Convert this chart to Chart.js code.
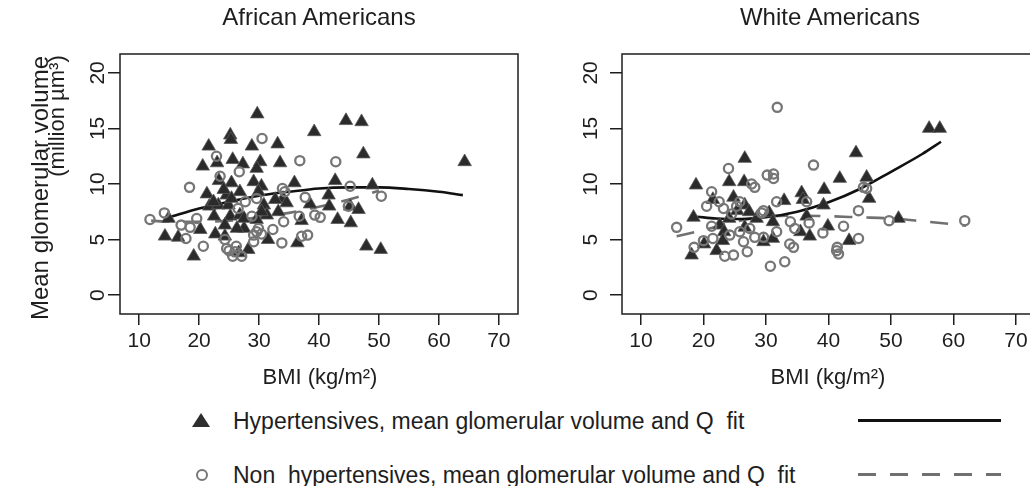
<!DOCTYPE html>
<html>
<head>
<meta charset="utf-8">
<script src="https://cdn.jsdelivr.net/npm/chart.js@4.4.1/dist/chart.umd.min.js"></script>
<style>
  html, body { margin:0; padding:0; width:1030px; height:486px; overflow:hidden; background:#fff; }
  body { position:relative; font-family:"Liberation Sans", Arial, sans-serif; color:#1e1e1e; }
  canvas { position:absolute; top:0; }
  .t { position:absolute; white-space:nowrap; transform:translate(-50%,-50%); line-height:1; }
  .r { position:absolute; white-space:nowrap; transform:translate(-50%,-50%) rotate(-90deg); line-height:1; }
  .lg { position:absolute; white-space:pre; font-size:23px; line-height:1; transform:translateY(-50%); }
</style>
</head>
<body>
<canvas id="left" width="530" height="400" style="left:0"></canvas>
<canvas id="right" width="520" height="400" style="left:540px"></canvas>

<div class="t" style="left:319px; top:17px; font-size:24px;">African Americans</div>
<div class="t" style="left:830px; top:17px; font-size:24px;">White Americans</div>
<div class="t" style="left:320px; top:377px; font-size:22px;">BMI (kg/m²)</div>
<div class="t" style="left:828px; top:377px; font-size:22px;">BMI (kg/m²)</div>
<div class="r" style="left:40px; top:188px; font-size:24px;">Mean glomerular volume</div>
<div class="r" style="left:57px; top:116px; font-size:22px;">(million µm³)</div>

<div style="position:absolute; left:192px; top:413px; width:0; height:0; border-left:9px solid transparent; border-right:9px solid transparent; border-bottom:14px solid #2e2e2e;"></div>
<div class="lg" style="left:233px; top:421px;">Hypertensives, mean glomerular volume and Q  fit</div>
<div style="position:absolute; left:858px; top:419px; width:143px; height:3px; background:#111;"></div>

<div style="position:absolute; left:196px; top:469px; width:8px; height:8px; border:2.5px solid #777; border-radius:50%;"></div>
<div class="lg" style="left:233px; top:475px;">Non  hypertensives, mean glomerular volume and Q  fit</div>
<div style="position:absolute; left:858px; top:473px; width:143px; height:3px; background:repeating-linear-gradient(to right,#707070 0 18px,transparent 18px 32px);"></div>

<script>
// ---------- DATA (BMI kg/m², mean glomerular volume million µm³) ----------
const xTickValues = [10, 20, 30, 40, 50, 60, 70];
const yTickValues = [0, 5, 10, 15, 20];

// African Americans
const aaHyper = [[29.7,16.3],[44.5,15.7],[47.1,15.6],[39.2,14.7],[25.2,14.4],[25.3,14.0],[21.6,13.4],[28.8,13.4],[33.1,13.6],[47.4,12.7],[64.3,12.0],[20.6,11.6],[23.0,11.9],[25.6,12.2],[27.3,11.8],[30.2,12.0],[33.5,11.9],[29.6,11.4],[23.3,10.3],[25.4,10.1],[29.1,10.2],[30.4,9.8],[35.9,10.1],[42.7,10.3],[48.9,9.9],[21.3,9.1],[24.6,9.0],[26.8,9.3],[29.9,9.3],[34.0,8.7],[41.6,9.0],[45.2,8.0],[21.7,8.0],[23.2,8.1],[24.9,8.1],[30.8,8.1],[32.7,8.6],[34.6,8.3],[38.5,8.2],[41.7,8.0],[46.6,7.7],[14.9,6.9],[22.5,7.1],[25.2,7.1],[26.8,7.2],[31.3,7.2],[43.1,6.8],[45.3,6.5],[37.1,6.7],[14.3,5.3],[16.5,5.2],[20.2,5.9],[22.7,5.5],[24.3,5.3],[27.5,6.0],[31.5,5.0],[36.4,4.7],[19.1,3.5],[26.6,3.8],[28.2,4.1],[47.9,4.4],[50.3,4.1],[27.5,6.9],[24.1,9.5],[22.4,8.4],[29.6,6.8],[33.2,7.5],[24.3,6.3],[26.3,6.0],[30.4,7.5],[25.4,8.7]];
const aaNonHyper = [[30.5,14.1],[22.9,12.5],[36.8,12.1],[42.8,12.0],[26.7,11.1],[23.5,10.7],[18.4,9.7],[33.9,9.6],[45.2,9.8],[50.4,8.9],[37.7,8.8],[29.6,8.7],[11.8,6.8],[14.2,7.4],[17.0,6.3],[18.5,6.1],[19.6,6.9],[17.8,5.1],[20.7,4.4],[28.8,7.1],[29.9,6.0],[32.3,5.9],[34.1,6.6],[36.7,7.1],[39.3,7.2],[40.2,7.0],[37.1,5.3],[38.1,5.4],[33.8,4.7],[24.6,4.2],[25.6,3.5],[27.1,3.5],[29.1,4.8],[30.4,5.5],[29.1,5.4],[29.6,5.7],[24.3,5.0],[26.2,4.4],[44.9,8.0],[26.5,7.8],[27.7,8.4],[34.3,9.3],[25.0,4.0],[26.0,3.9]];
const aaHyperFit = [[15,7.0],[20,7.8],[25,8.4],[30,8.95],[35,9.3],[40,9.6],[45,9.7],[50,9.7],[55,9.55],[60,9.3],[64,9.0]];
const aaNonHyperFit = [[12,6.7],[15,6.6],[20,6.6],[25,6.7],[30,7.0],[35,7.4],[40,7.95],[45,8.6],[50,9.4]];

// White Americans
const waHyper = [[56.1,15.0],[57.8,15.0],[44.4,12.8],[26.6,12.3],[24.1,10.2],[26.5,10.2],[18.8,9.9],[41.8,10.5],[46.1,10.6],[39.3,9.5],[35.7,9.2],[35.9,8.6],[32.9,8.5],[21.5,8.6],[24.8,8.8],[46.5,8.7],[26.6,8.1],[39.2,8.1],[18.4,7.0],[24.1,6.9],[25.4,7.6],[28.5,6.9],[30.5,7.4],[31.1,6.6],[36.5,7.1],[51.2,6.9],[22.6,6.3],[26.6,6.1],[39.9,6.2],[23.3,5.7],[35.5,5.7],[37.0,5.3],[23.1,4.9],[29.6,4.8],[31.1,5.1],[43.3,4.9],[20.1,4.6],[22.1,4.0],[18.1,3.6],[27.3,7.5]];
const waNonHyper = [[31.8,16.9],[37.6,11.7],[24.0,11.4],[30.2,10.8],[31.2,10.9],[31.2,10.5],[27.7,10.0],[28.2,9.7],[21.3,9.3],[45.6,9.7],[46.1,9.6],[31.7,8.4],[20.5,8.0],[22.5,8.4],[25.8,8.4],[44.8,7.6],[15.7,6.1],[21.3,6.2],[49.7,6.7],[61.8,6.7],[42.4,6.2],[36.9,6.5],[39.1,5.6],[33.9,6.6],[34.6,6.0],[31.7,5.7],[44.8,5.1],[20.0,4.9],[21.5,5.1],[18.5,4.3],[41.4,4.3],[41.3,4.0],[41.6,3.7],[27.0,3.9],[33.0,3.0],[30.7,2.6],[24.8,3.6],[23.4,3.5],[29.6,5.2],[28.2,5.2],[33.8,4.6],[34.4,4.3],[26.4,4.8],[24.2,5.4],[25.3,8.0],[23.2,7.8],[29.6,7.6],[25.8,5.7],[29.3,7.4],[27.4,6.0],[24.5,7.3],[36.5,8.4]];
const waHyperFit = [[19,7.05],[22,6.9],[26,6.85],[30,7.0],[35,7.5],[40,8.35],[45,9.55],[50,11.1],[55,12.7],[58,13.8]];
const waNonHyperFit = [[15.7,5.3],[20,5.85],[25,6.6],[30,7.05],[35,7.15],[40,7.1],[45,7.0],[50,6.9],[55,6.65],[62,6.25]];

// ---------- helpers ----------
const FONT = '"Liberation Sans", Arial, sans-serif';
const toXY = arr => arr.map(([x, y]) => ({x, y}));

const framePlugin = {
  id: 'frame',
  afterDraw(chart, args, opts) {
    const {ctx, chartArea: a, scales} = chart;
    ctx.save();
    ctx.strokeStyle = '#1e1e1e';
    ctx.lineWidth = 1.5;
    ctx.strokeRect(a.left, a.top, a.right - a.left, a.bottom - a.top);
    const ys = scales.y;
    ctx.fillStyle = '#1e1e1e';
    ctx.font = '21px ' + FONT;
    ctx.textAlign = 'center';
    ctx.textBaseline = 'middle';
    yTickValues.forEach(v => {
      const py = ys.getPixelForValue(v);
      ctx.save();
      ctx.translate(a.left - opts.labelGap, py);
      ctx.rotate(-Math.PI / 2);
      ctx.fillText(String(v), 0, 0);
      ctx.restore();
    });
    ctx.restore();
  }
};

function makeChart(id, hyper, nonHyper, hyperFit, nonHyperFit, cfg) {
  return new Chart(document.getElementById(id), {
    type: 'scatter',
    data: {
      datasets: [
        { data: toXY(nonHyper), pointStyle: 'circle', pointRadius: 4.6, pointBorderWidth: 2.3,
          pointBorderColor: '#767676', pointBackgroundColor: 'rgba(0,0,0,0)', order: 0 },
        { data: toXY(hyper), pointStyle: 'triangle', pointRadius: 7.8, pointBorderWidth: 0.8,
          pointBorderColor: '#5a5a5a', pointBackgroundColor: '#2b2b2b', order: 1 },
        { type: 'line', data: toXY(hyperFit), showLine: true, pointRadius: 0, borderColor: '#111',
          borderWidth: 2.6, cubicInterpolationMode: 'monotone', fill: false, order: 2 },
        { type: 'line', data: toXY(nonHyperFit), showLine: true, pointRadius: 0, borderColor: '#707070',
          borderWidth: 2.6, borderDash: [18, 14], cubicInterpolationMode: 'monotone', fill: false, order: 3 }
      ]
    },
    options: {
      responsive: false,
      animation: false,
      events: [],
      layout: { padding: { left: 0, top: 54, right: cfg.padRight, bottom: 0 } },
      plugins: { legend: { display: false }, tooltip: { enabled: false },
                 frame: { labelGap: cfg.labelGap } },
      scales: {
        x: {
          type: 'linear', min: cfg.xmin, max: cfg.xmax,
          afterBuildTicks: s => { s.ticks = xTickValues.map(v => ({value: v})); },
          afterFit: s => { s.height = 86; },
          grid: { display: true, drawOnChartArea: false, drawTicks: true, tickLength: 11,
                  color: '#1e1e1e', lineWidth: 1.5 },
          border: { display: false },
          ticks: { color: '#1e1e1e', font: { family: FONT, size: 21 }, padding: 4,
                   maxRotation: 0, autoSkip: false, callback: v => String(v) }
        },
        y: {
          type: 'linear', min: -1.7, max: 21.7,
          afterBuildTicks: s => { s.ticks = yTickValues.map(v => ({value: v})); },
          afterFit: s => { s.width = cfg.yWidth; },
          grid: { display: true, drawOnChartArea: false, drawTicks: true, tickLength: cfg.yTick,
                  color: '#1e1e1e', lineWidth: 1.5 },
          border: { display: false },
          ticks: { display: false }
        }
      }
    },
    plugins: [framePlugin]
  });
}

makeChart('left', aaHyper, aaNonHyper, aaHyperFit, aaNonHyperFit,
  { xmin: 6.8, xmax: 73.2, padRight: 12, yWidth: 120, labelGap: 21.5, yTick: 12 });
makeChart('right', waHyper, waNonHyper, waHyperFit, waNonHyperFit,
  { xmin: 6.96, xmax: 73.04, padRight: 25, yWidth: 82, labelGap: 30.5, yTick: 12 });
</script>
</body>
</html>
